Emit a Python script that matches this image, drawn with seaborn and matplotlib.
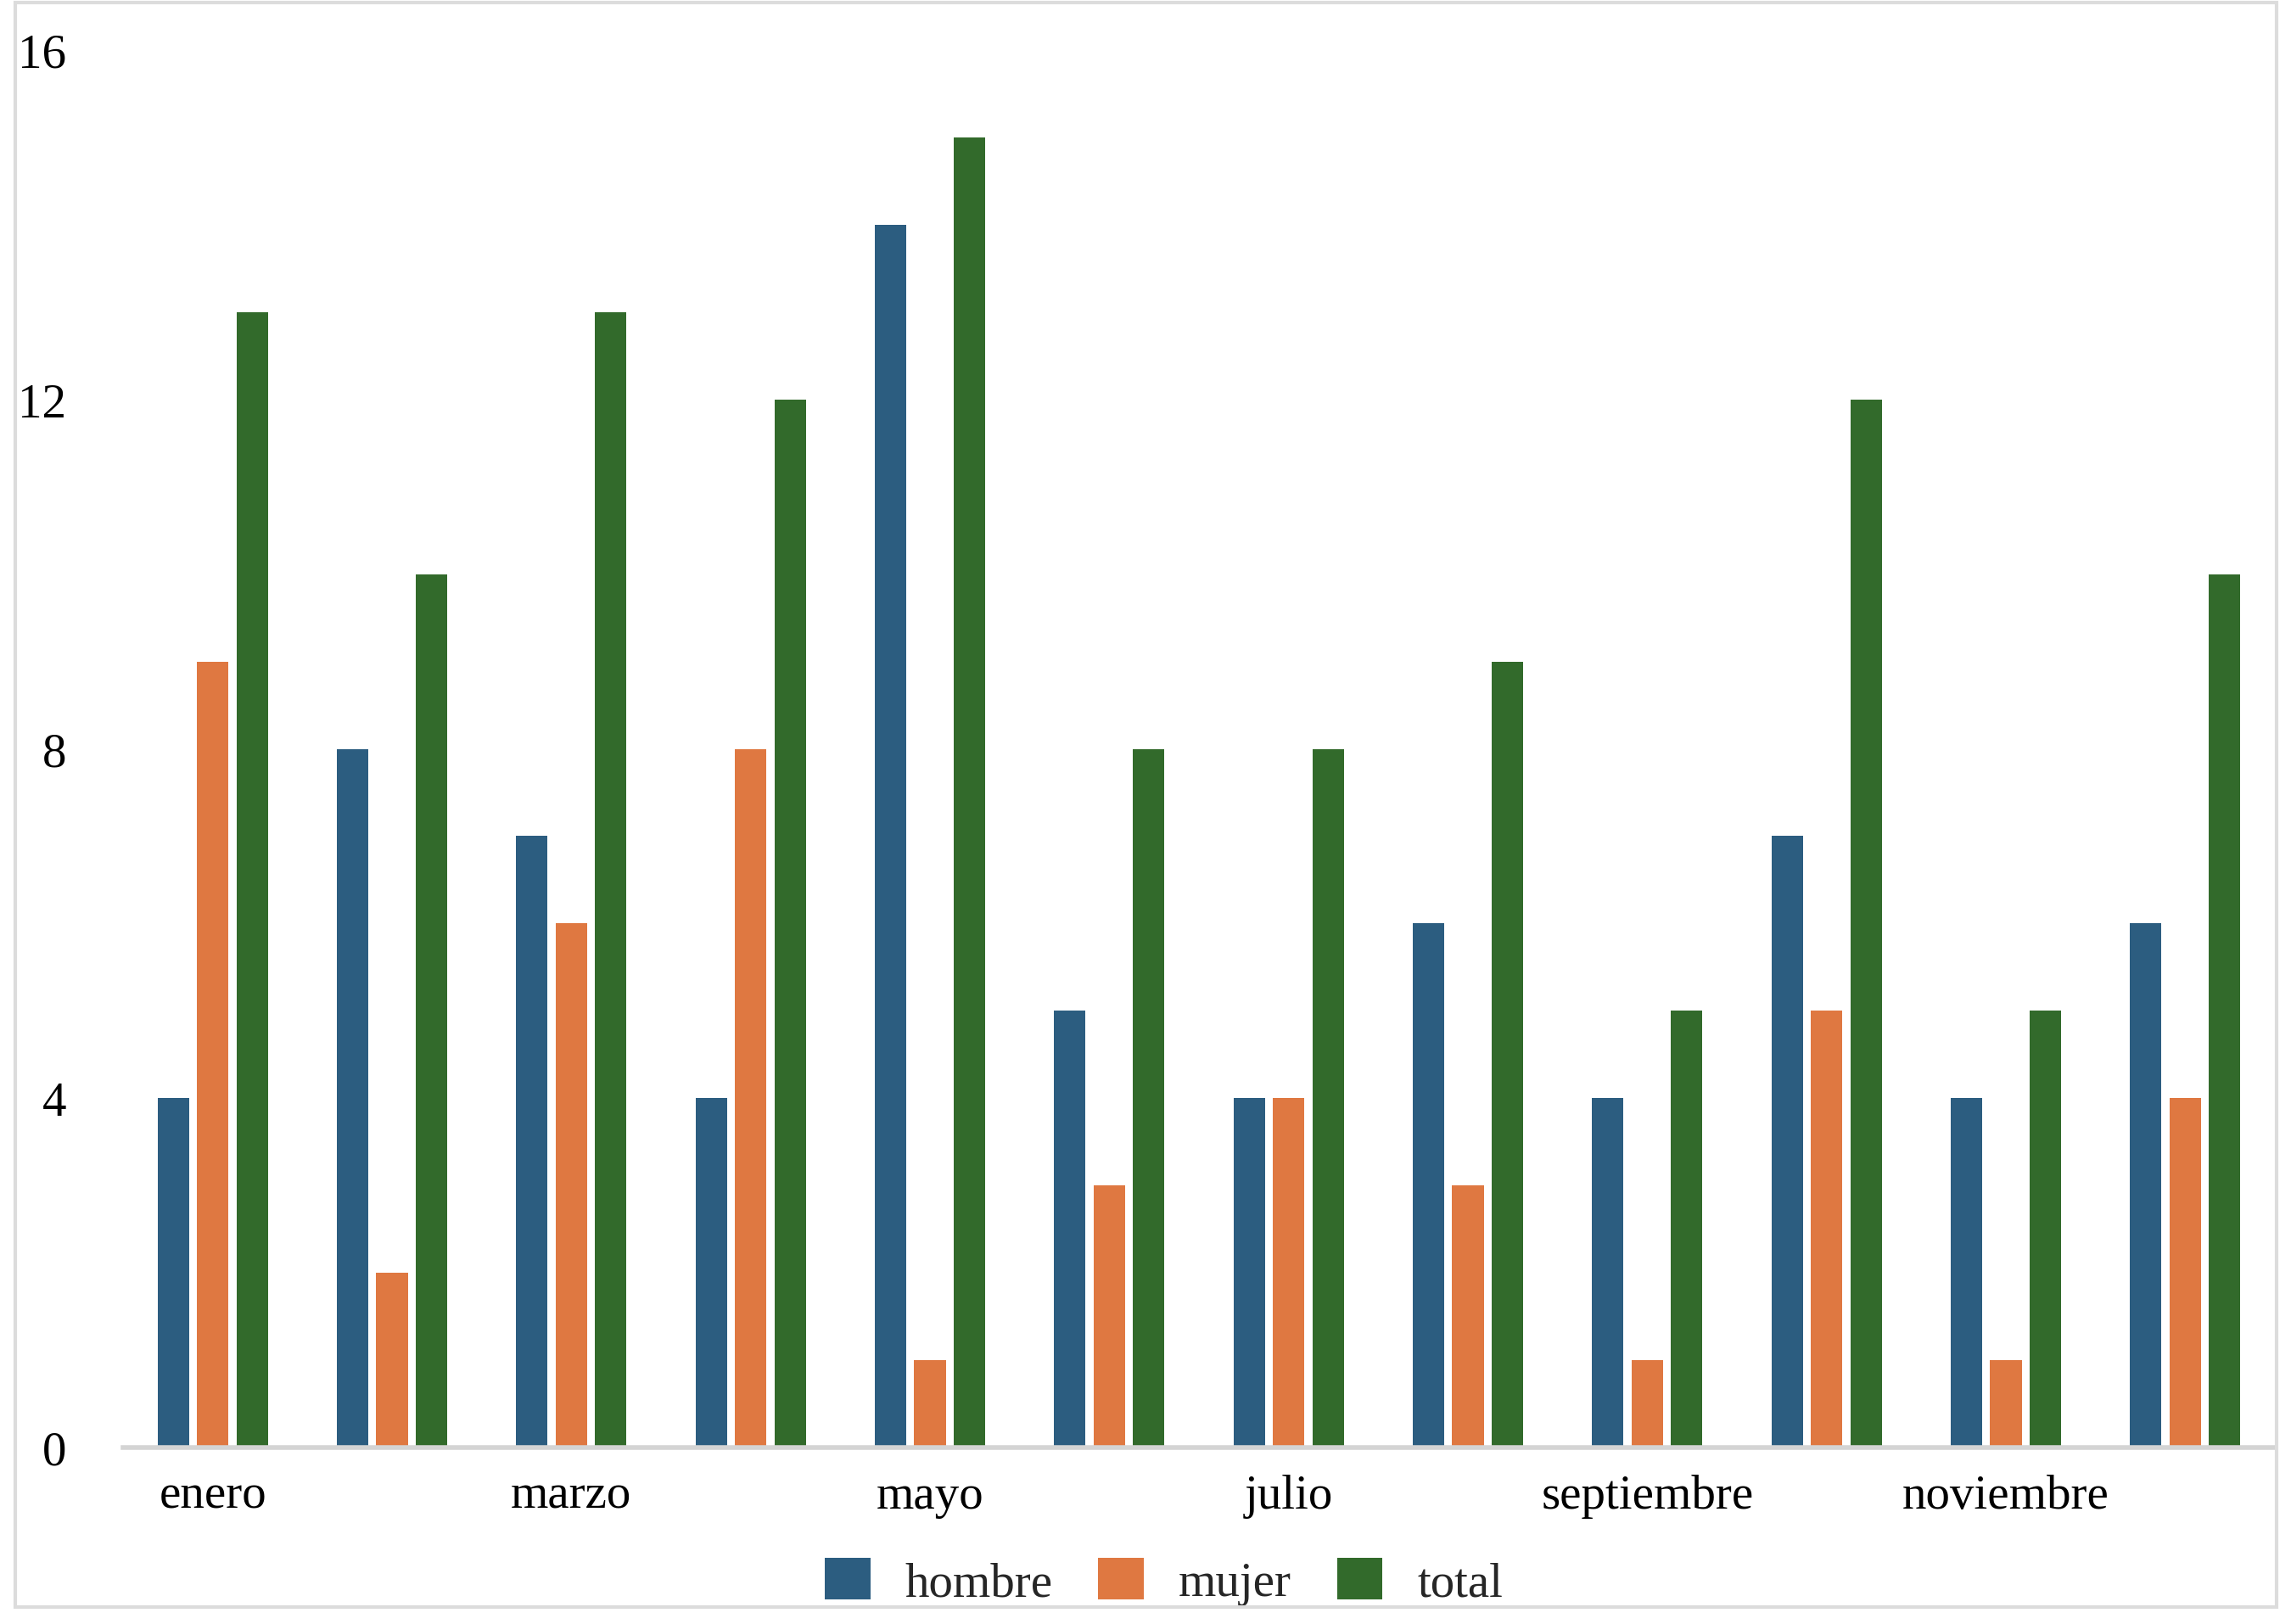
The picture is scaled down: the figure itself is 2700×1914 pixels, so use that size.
import pandas as pd
import matplotlib.pyplot as plt
import seaborn as sns
from matplotlib.patches import Rectangle

# datos por mes
meses = ["enero", "febrero", "marzo", "abril", "mayo", "junio", "julio",
         "agosto", "septiembre", "octubre", "noviembre", "diciembre"]
hombre = [4, 8, 7, 4, 14, 5, 4, 6, 4, 7, 4, 6]
mujer = [9, 2, 6, 8, 1, 3, 4, 3, 1, 5, 1, 4]
total = [13, 10, 13, 12, 15, 8, 8, 9, 5, 12, 5, 10]
series = ["hombre", "mujer", "total"]
colores = ["#2C5D80", "#DF7841", "#326A2B"]
yticks = [0, 4, 8, 12, 16]

df = pd.DataFrame({"mes": meses, "hombre": hombre, "mujer": mujer, "total": total})
df_long = df.melt(id_vars="mes", value_vars=series, var_name="serie", value_name="valor")

sns.set_theme(style="white")
plt.rcParams['font.family'] = ['Liberation Serif', 'DejaVu Serif']

W, H = 2700, 1915
fig = plt.figure(figsize=(W / 100, H / 100), dpi=100)
ax = fig.add_axes([145 / W, (H - 1707) / H, 2536 / W, 1647 / H])

sns.barplot(data=df_long, x="mes", y="valor", hue="serie", palette=colores,
            order=meses, hue_order=series, width=0.66, gap=0.2,
            saturation=1, edgecolor="none", ax=ax)

ax.set_ylim(0, 16)
ax.set_xlim(-0.5, len(meses) - 0.5)
ax.set_yticks(yticks)
ax.set_yticklabels([str(v) for v in yticks])
ax.set_xticks(range(len(meses)))
ax.set_xticklabels([m if i % 2 == 0 else "" for i, m in enumerate(meses)])
ax.tick_params(axis="y", length=0, pad=48, labelsize=41, labelcolor="black")
ax.tick_params(axis="x", length=0, pad=22, labelsize=41, labelcolor="black")
for lab in ax.get_yticklabels():
    lab.set_horizontalalignment("right")
ax.set_xlabel("")
ax.set_ylabel("")
for s in ["top", "right", "left"]:
    ax.spines[s].set_visible(False)
ax.spines["bottom"].set_color("#D4D4D4")
ax.spines["bottom"].set_linewidth(4)
ax.grid(False)

handles, labels = ax.get_legend_handles_labels()
ax.legend(handles, labels, loc="center", bbox_to_anchor=(0.508, 0.026),
          bbox_transform=fig.transFigure, ncol=3, frameon=False, fontsize=41,
          handlelength=0.94, handleheight=0.94, handletextpad=0.72,
          columnspacing=0.94)

# marco exterior gris claro
fig.patches.append(Rectangle((18 / W, 20 / H), 2665 / W, 1891 / H,
                             transform=fig.transFigure, fill=False,
                             edgecolor="#DCDCDC", linewidth=3))

fig.savefig("out.png", dpi=100, facecolor="white")
